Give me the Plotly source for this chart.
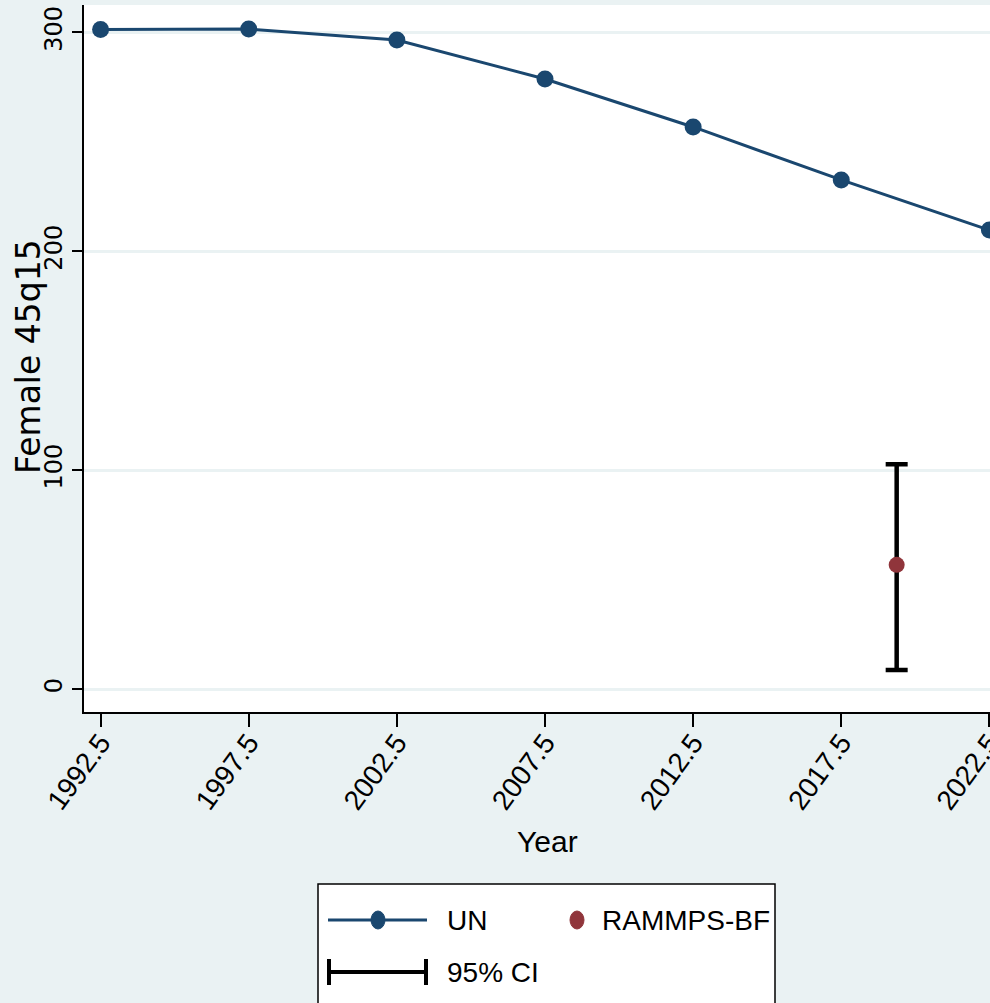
import plotly.graph_objects as go

# ---- data ----
years = [1992.5, 1997.5, 2002.5, 2007.5, 2012.5, 2017.5, 2022.5]
un_values = [301.3, 301.5, 296.5, 278.7, 256.8, 232.6, 209.7]
rammps_year = [2019.37]
rammps_value = [56.8]
rammps_lo = [8.8]
rammps_hi = [102.7]
y_ticks = [0, 100, 200, 300]
x_ticks = years

W, H = 990, 1003
L, R, T, B = 84, 0, 5, 291
PW = W - L - R
PH = H - T - B

def px2x(px):
    return (px - L) / PW

def px2y(py):
    return (H - B - py) / PH

BG = "#EAF2F3"
NAVY = "#1A476F"
MAROON = "#90353B"
SANS = "Liberation Sans, Arial, sans-serif"
WIDE = "DejaVu Sans, Verdana, sans-serif"

fig = go.Figure()

fig.add_trace(go.Scatter(
    x=years, y=un_values, mode="lines+markers", name="UN",
    line=dict(color=NAVY, width=3),
    marker=dict(color=NAVY, size=17),
    showlegend=False,
))

fig.add_trace(go.Scatter(
    x=rammps_year, y=rammps_value, mode="markers", name="95% CI",
    marker=dict(color="rgba(0,0,0,0)", size=1),
    error_y=dict(type="data", symmetric=False,
                 array=[h - v for h, v in zip(rammps_hi, rammps_value)],
                 arrayminus=[v - l for v, l in zip(rammps_value, rammps_lo)],
                 color="black", thickness=4.5, width=11),
    showlegend=False,
))

fig.add_trace(go.Scatter(
    x=rammps_year, y=rammps_value, mode="markers", name="RAMMPS-BF",
    marker=dict(color=MAROON, size=16),
    showlegend=False,
))

shapes = []
annotations = []

# legend box
shapes.append(dict(type="rect", xref="paper", yref="paper",
                   x0=px2x(318), x1=px2x(775), y0=px2y(1010), y1=px2y(884),
                   line=dict(color="black", width=1.5), fillcolor="white", layer="above"))
# UN legend symbol
shapes.append(dict(type="line", xref="paper", yref="paper",
                   x0=px2x(328), x1=px2x(427), y0=px2y(920), y1=px2y(920),
                   line=dict(color=NAVY, width=3)))
shapes.append(dict(type="circle", xref="paper", yref="paper",
                   x0=px2x(371), x1=px2x(385), y0=px2y(929), y1=px2y(911),
                   line=dict(color=NAVY, width=1), fillcolor=NAVY))
# RAMMPS legend symbol
shapes.append(dict(type="circle", xref="paper", yref="paper",
                   x0=px2x(570), x1=px2x(584), y0=px2y(929), y1=px2y(911),
                   line=dict(color=MAROON, width=1), fillcolor=MAROON))
# CI legend symbol
shapes.append(dict(type="line", xref="paper", yref="paper",
                   x0=px2x(328), x1=px2x(427), y0=px2y(972), y1=px2y(972),
                   line=dict(color="black", width=4)))
for xx in (329, 426):
    shapes.append(dict(type="line", xref="paper", yref="paper",
                       x0=px2x(xx), x1=px2x(xx), y0=px2y(959), y1=px2y(985),
                       line=dict(color="black", width=4)))

for txt, xx, yy in [("UN", 445, 920), ("RAMMPS-BF", 600, 920), ("95% CI", 445, 972)]:
    annotations.append(dict(text=txt, xref="paper", yref="paper", x=px2x(xx), y=px2y(yy),
                            xanchor="left", yanchor="middle", showarrow=False,
                            font=dict(family=SANS, size=28, color="black")))

# axis titles
annotations.append(dict(text="Year", xref="paper", yref="paper", x=px2x(547), y=px2y(842),
                        xanchor="center", yanchor="middle", showarrow=False,
                        font=dict(family=SANS, size=30, color="black")))
annotations.append(dict(text="Female 45q15", xref="paper", yref="paper", x=px2x(28), y=px2y(357),
                        xanchor="center", yanchor="middle", showarrow=False, textangle=-90,
                        font=dict(family=WIDE, size=33, color="black")))

fig.update_layout(
    width=W, height=H,
    margin=dict(l=L, r=R, t=T, b=B, pad=0, autoexpand=False),
    paper_bgcolor=BG, plot_bgcolor="white",
    shapes=shapes, annotations=annotations,
    showlegend=False,
)

fig.update_xaxes(
    range=[1991.94, 2022.52], tickvals=x_ticks, ticktext=[str(v) for v in x_ticks],
    tickangle=-54, ticks="outside", ticklen=13, tickwidth=2, tickcolor="black",
    ticklabelstandoff=-12, ticklabeloverflow="allow", automargin=False,
    showline=True, linecolor="black", linewidth=2, showgrid=False, zeroline=False,
    tickfont=dict(family=SANS, size=28, color="black"),
)
fig.update_yaxes(
    range=[-10.4, 312.5], tickvals=y_ticks, ticktext=[str(v) for v in y_ticks],
    tickangle=-90, ticks="outside", ticklen=10, tickwidth=2, tickcolor="black",
    automargin=False,
    showline=True, linecolor="black", linewidth=2, showgrid=True, gridcolor=BG, gridwidth=3,
    zeroline=False,
    tickfont=dict(family=WIDE, size=24, color="black"),
)

clip_js = (
    "document.documentElement.style.overflow='hidden';"
    "document.body.style.overflow='hidden';"
    "document.body.style.margin='0';"
    "var d=document.getElementsByClassName('plotly-graph-div')[0];"
    "if(d){d.style.overflow='hidden';}"
)

fig.write_html("out.html", post_script=clip_js)
